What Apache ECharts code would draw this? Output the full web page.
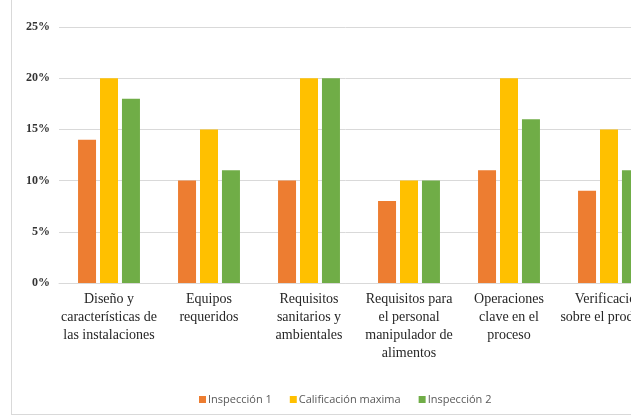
<!DOCTYPE html>
<html>
<head>
<meta charset="utf-8">
<script src="https://cdn.jsdelivr.net/npm/echarts@6/dist/echarts.min.js"></script>
<style>
  html, body { margin: 0; padding: 0; background: #fff; }
  #chart { width: 631px; height: 418px; }
</style>
</head>
<body>
<div id="chart"></div>
<script>
// data (percent)
var categories = [
    'Diseño y\ncaracterísticas de\nlas instalaciones',
    'Equipos\nrequeridos',
    'Requisitos\nsanitarios y\nambientales',
    'Requisitos para\nel personal\nmanipulador de\nalimentos',
    'Operaciones\nclave en el\nproceso',
    'Verificación\nsobre el producto'
];
var inspeccion1 = [14, 10, 10, 8, 11, 9];
var calificacionMaxima = [20, 15, 20, 10, 20, 15];
var inspeccion2 = [18, 11, 20, 10, 16, 11];

var myChart = echarts.init(document.getElementById('chart'));

var option = {
    animation: false,
    color: ['#ED7D31', '#FFC000', '#70AD47'],
    // frame of the original chart box (left and bottom edges are visible)
    graphic: [
        {
            type: 'line',
            shape: { x1: 11.5, y1: 0, x2: 11.5, y2: 414 },
            style: { stroke: '#d9d9d9', lineWidth: 1 }
        },
        {
            type: 'line',
            shape: { x1: 11, y1: 414.5, x2: 631, y2: 414.5 },
            style: { stroke: '#d9d9d9', lineWidth: 1 }
        }
    ],
    legend: {
        data: ['Inspección 1', 'Calificación maxima', 'Inspección 2'],
        top: 389,
        left: 194,
        itemWidth: 7,
        itemHeight: 7,
        itemGap: 18,
        icon: 'rect',
        textStyle: { fontFamily: 'Open Sans', fontSize: 11, color: '#595959', padding: [0, 0, 0, -3] }
    },
    grid: {
        left: 59,
        top: 27,
        width: 600,
        height: 256,
        containLabel: false,
        outerBoundsMode: 'none'
    },
    xAxis: {
        type: 'category',
        data: categories,
        axisTick: { show: false },
        axisLine: { lineStyle: { color: '#d9d9d9' } },
        axisLabel: {
            interval: 0,
            margin: 7,
            fontFamily: 'Liberation Serif',
            fontSize: 14,
            lineHeight: 18,
            color: '#262626'
        }
    },
    yAxis: {
        type: 'value',
        min: 0,
        max: 25,
        interval: 5,
        axisLine: { show: false },
        axisTick: { show: false },
        splitLine: { lineStyle: { color: '#d9d9d9' } },
        axisLabel: {
            formatter: '{value}%',
            margin: 9,
            fontFamily: 'Liberation Serif',
            fontWeight: 'bold',
            fontSize: 12,
            color: '#333'
        }
    },
    series: [
        { name: 'Inspección 1', type: 'bar', data: inspeccion1, barWidth: 18, barGap: '22%' },
        { name: 'Calificación maxima', type: 'bar', data: calificacionMaxima, barWidth: 18, barGap: '22%' },
        { name: 'Inspección 2', type: 'bar', data: inspeccion2, barWidth: 18, barGap: '22%' }
    ]
};

myChart.setOption(option);
</script>
</body>
</html>
